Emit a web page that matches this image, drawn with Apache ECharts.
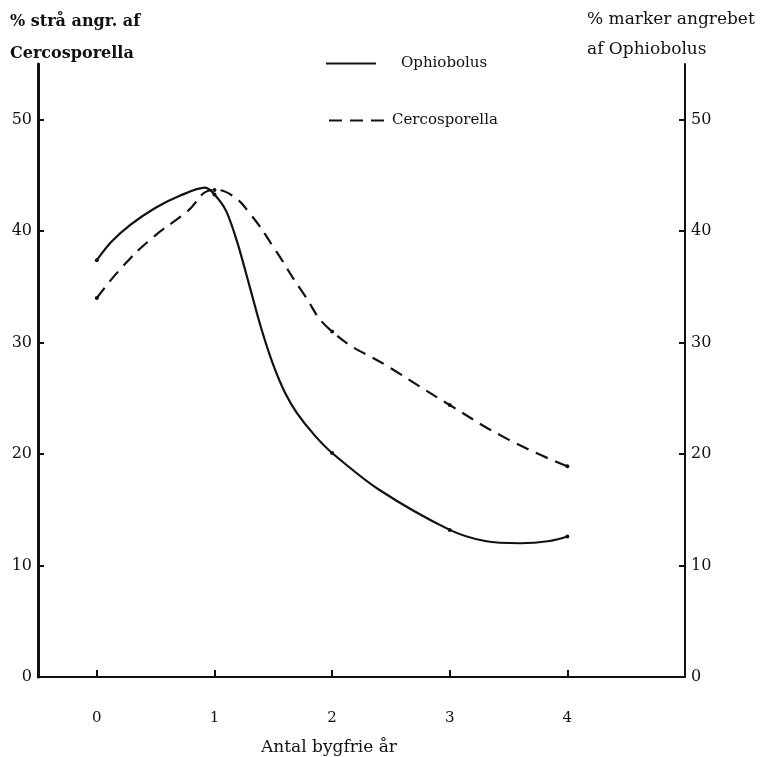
<!DOCTYPE html>
<html>
<head>
<meta charset="utf-8">
<script src="https://cdn.jsdelivr.net/npm/echarts@6/dist/echarts.min.js"></script>
<style>
html,body{margin:0;padding:0;background:#fff;}
#c{width:775px;height:757px;}
</style>
</head>
<body>
<div id="c"></div>
<script>
const xTicks = [0, 1, 2, 3, 4];
const yTicks = [0, 10, 20, 30, 40, 50];
const ophX = [0, 0.12, 0.29, 0.5, 0.71, 0.92, 1.0, 1.1, 1.2, 1.3, 1.4, 1.5, 1.6, 1.7, 1.85, 2.0, 2.4, 3.0, 3.3, 3.6, 3.85, 4.0];
const ophY = [37.4, 39.0, 40.6, 42.1, 43.2, 43.9, 43.3, 41.8, 38.8, 35.0, 31.2, 28.0, 25.5, 23.7, 21.7, 20.1, 16.8, 13.2, 12.2, 12.0, 12.2, 12.6];
const cerX = [0, 0.2, 0.45, 0.75, 1.0, 1.15, 1.3, 1.5, 1.75, 2.0, 2.5, 3.0, 3.5, 4.0];
const cerY = [34.0, 36.6, 39.2, 41.6, 43.7, 43.2, 41.6, 38.6, 34.5, 31.0, 27.7, 24.4, 21.3, 18.9];

const font = '"DejaVu Serif", "Liberation Serif", serif';
const chart = echarts.init(document.getElementById('c'));
const pairs = (xs, ys) => xs.map((x, i) => {
  const item = { value: [x, ys[i]] };
  if (Number.isInteger(x)) { item.symbol = 'circle'; item.symbolSize = 4; }
  return item;
});

chart.setOption({
  backgroundColor: '#fff',
  animation: false,
  textStyle: { fontFamily: font, color: '#111' },
  grid: { left: 38, right: 90, top: 64, bottom: 80 },
  title: [
    { text: '% strå angr. af\nCercosporella', left: 5, top: 1,
      textStyle: { fontFamily: font, fontSize: 16, fontWeight: 'bold', lineHeight: 32, color: '#111' } },
    { text: '% marker angrebet\naf Ophiobolus', left: 582, top: 0,
      textStyle: { fontFamily: font, fontSize: 17, fontWeight: 'normal', lineHeight: 30, color: '#111' } },
    { text: 'Antal bygfrie år', left: 256, top: 734,
      textStyle: { fontFamily: font, fontSize: 17, fontWeight: 'normal', color: '#111' } }
  ],
  legend: [
    { data: ['Ophiobolus'], left: 325, top: 56, padding: 0, itemWidth: 50, itemHeight: 14,
      itemStyle: { opacity: 0 },
      textStyle: { fontFamily: font, fontSize: 15, color: '#111', padding: [0, 0, 0, 20] } },
    { data: ['Cercosporella'], left: 328, top: 113, padding: 0, itemWidth: 58, itemHeight: 14,
      itemStyle: { opacity: 0 },
      textStyle: { fontFamily: font, fontSize: 15, color: '#111', padding: [0, 0, 0, 0] } }
  ],
  xAxis: {
    type: 'value', min: -0.5, max: 5,
    axisLine: { onZero: false, lineStyle: { color: '#111', width: 2 } },
    axisTick: { inside: true, length: 7, customValues: xTicks, lineStyle: { color: '#111', width: 2 } },
    axisLabel: { customValues: xTicks, margin: 34, fontFamily: font, fontSize: 15, color: '#111' },
    splitLine: { show: false }
  },
  yAxis: [
    { type: 'value', min: 0, max: 55, position: 'left',
      axisLine: { show: true, onZero: false, lineStyle: { color: '#111', width: 3 } },
      axisTick: { show: true, inside: true, length: 6, customValues: yTicks, lineStyle: { color: '#111', width: 2 } },
      axisLabel: { customValues: yTicks, margin: 6, fontFamily: font, fontSize: 16, color: '#111' },
      splitLine: { show: false } },
    { type: 'value', min: 0, max: 55, position: 'right',
      axisLine: { show: true, onZero: false, lineStyle: { color: '#111', width: 2 } },
      axisTick: { show: true, inside: true, length: 6, customValues: yTicks, lineStyle: { color: '#111', width: 2 } },
      axisLabel: { customValues: yTicks, margin: 6, fontFamily: font, fontSize: 16, color: '#111' },
      splitLine: { show: false } }
  ],
  series: [
    { name: 'Ophiobolus', type: 'line', yAxisIndex: 1, data: pairs(ophX, ophY),
      smooth: 0.3, symbol: 'none', showSymbol: true, color: '#111',
      itemStyle: { color: '#111' },
      lineStyle: { color: '#111', width: 2.2, type: 'solid' } },
    { name: 'Cercosporella', type: 'line', yAxisIndex: 0, data: pairs(cerX, cerY),
      smooth: 0.5, symbol: 'none', showSymbol: true, color: '#111',
      itemStyle: { color: '#111' },
      lineStyle: { color: '#111', width: 2.2, type: [13, 8] } }
  ]
});
</script>
</body>
</html>
